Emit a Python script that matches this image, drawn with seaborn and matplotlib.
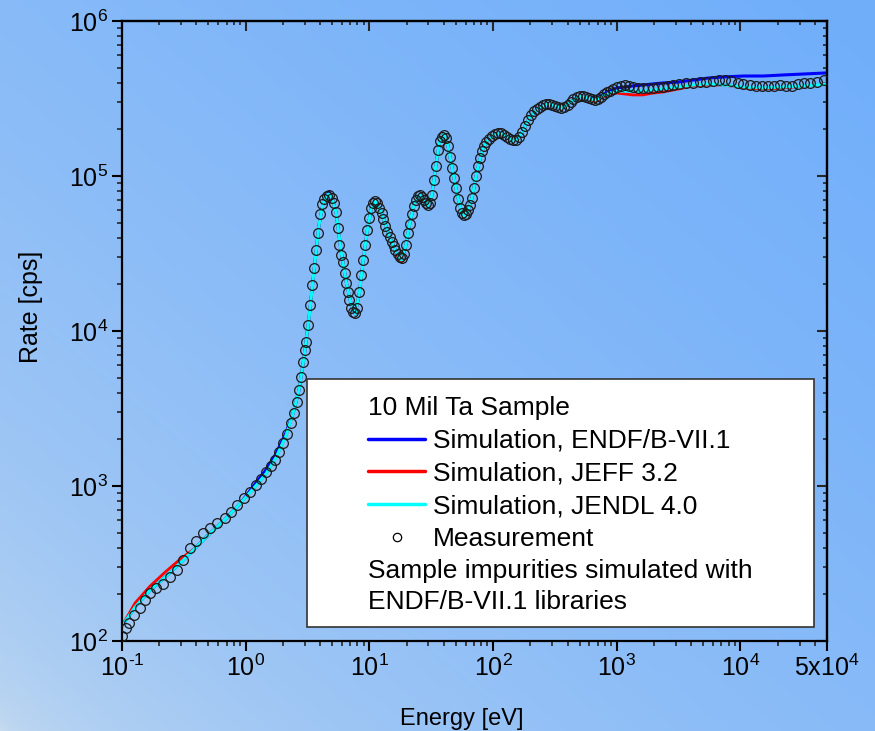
import numpy as np
import matplotlib
matplotlib.use("Agg")
import matplotlib.pyplot as plt
from matplotlib.ticker import FixedLocator, LogLocator, NullFormatter
from matplotlib.lines import Line2D
from matplotlib.patches import Rectangle
import seaborn as sns

sns.set_style("ticks")
plt.rcParams["font.family"] = ["Liberation Sans", "DejaVu Sans"]
plt.rcParams["mathtext.fontset"] = "custom"
plt.rcParams["mathtext.rm"] = "Liberation Sans"
plt.rcParams["mathtext.it"] = "Liberation Sans:italic"
plt.rcParams["text.color"] = "black"
plt.rcParams["axes.labelcolor"] = "black"

# ----------------------------------------------------------------
# Data (log10 values)
# ----------------------------------------------------------------
meas_log_e = [
    -1.000, -0.967, -0.943, -0.902, -0.854, -0.813, -0.772, -0.724, -0.667, -0.610,
    -0.553, -0.504, -0.447, -0.398, -0.341, -0.285, -0.228, -0.171, -0.122, -0.073,
    -0.016, 0.033, 0.081, 0.122, 0.163, 0.203, 0.236, 0.268, 0.301, 0.333,
    0.366, 0.390, 0.415, 0.431, 0.447, 0.463, 0.480, 0.488, 0.504, 0.520,
    0.537, 0.553, 0.569, 0.585, 0.602, 0.618, 0.634, 0.659, 0.675, 0.699,
    0.715, 0.732, 0.748, 0.756, 0.772, 0.789, 0.805, 0.813, 0.829, 0.837,
    0.854, 0.870, 0.886, 0.902, 0.919, 0.935, 0.951, 0.967, 0.984, 1.000,
    1.016, 1.033, 1.049, 1.065, 1.081, 1.098, 1.114, 1.130, 1.146, 1.163,
    1.179, 1.195, 1.211, 1.228, 1.244, 1.260, 1.276, 1.293, 1.309, 1.325,
    1.341, 1.358, 1.374, 1.390, 1.407, 1.423, 1.439, 1.455, 1.472, 1.488,
    1.504, 1.520, 1.537, 1.553, 1.569, 1.585, 1.602, 1.618, 1.634, 1.650,
    1.667, 1.683, 1.699, 1.715, 1.732, 1.748, 1.764, 1.780, 1.797, 1.813,
    1.829, 1.846, 1.862, 1.878, 1.894, 1.911, 1.927, 1.943, 1.967, 1.992,
    2.016, 2.041, 2.065, 2.089, 2.114, 2.138, 2.163, 2.187, 2.211, 2.236,
    2.260, 2.285, 2.309, 2.333, 2.358, 2.382, 2.407, 2.431, 2.455, 2.480,
    2.504, 2.528, 2.553, 2.577, 2.602, 2.626, 2.650, 2.675, 2.699, 2.724,
    2.748, 2.772, 2.797, 2.821, 2.846, 2.870, 2.894, 2.919, 2.943, 2.967,
    3.000, 3.033, 3.065, 3.098, 3.130, 3.171, 3.211, 3.252, 3.293, 3.333,
    3.374, 3.415, 3.455, 3.504, 3.561, 3.618, 3.675, 3.724, 3.780, 3.829,
    3.878, 3.927, 3.976, 4.024, 4.073, 4.122, 4.171, 4.220, 4.268, 4.317,
    4.366, 4.415, 4.463, 4.512, 4.561, 4.618, 4.675,
]
meas_log_rate = [
    2.032, 2.084, 2.116, 2.168, 2.213, 2.265, 2.310, 2.342, 2.368, 2.413,
    2.458, 2.523, 2.600, 2.645, 2.697, 2.729, 2.761, 2.794, 2.832, 2.877,
    2.923, 2.961, 3.006, 3.045, 3.090, 3.129, 3.168, 3.219, 3.277, 3.335,
    3.406, 3.471, 3.542, 3.619, 3.703, 3.800, 3.877, 3.929, 4.039, 4.168,
    4.297, 4.406, 4.523, 4.632, 4.755, 4.819, 4.852, 4.871, 4.877, 4.858,
    4.826, 4.768, 4.665, 4.555, 4.490, 4.445, 4.374, 4.310, 4.252, 4.200,
    4.148, 4.123, 4.116, 4.148, 4.252, 4.361, 4.458, 4.555, 4.652, 4.729,
    4.794, 4.826, 4.839, 4.826, 4.794, 4.761, 4.723, 4.677, 4.639, 4.606,
    4.574, 4.548, 4.523, 4.497, 4.477, 4.471, 4.497, 4.555, 4.632, 4.690,
    4.755, 4.806, 4.845, 4.871, 4.877, 4.865, 4.845, 4.826, 4.813, 4.826,
    4.877, 4.974, 5.065, 5.168, 5.226, 5.252, 5.265, 5.245, 5.194, 5.123,
    5.052, 4.987, 4.923, 4.852, 4.794, 4.761, 4.748, 4.755, 4.781, 4.813,
    4.858, 4.923, 5.000, 5.065, 5.116, 5.161, 5.194, 5.219, 5.239, 5.258,
    5.271, 5.277, 5.277, 5.265, 5.252, 5.239, 5.232, 5.232, 5.252, 5.284,
    5.323, 5.361, 5.394, 5.419, 5.432, 5.445, 5.458, 5.465, 5.465, 5.458,
    5.452, 5.445, 5.439, 5.445, 5.458, 5.477, 5.497, 5.510, 5.516, 5.516,
    5.510, 5.503, 5.497, 5.490, 5.497, 5.510, 5.529, 5.542, 5.548, 5.561,
    5.574, 5.581, 5.587, 5.581, 5.574, 5.568, 5.568, 5.568, 5.568, 5.574,
    5.574, 5.581, 5.587, 5.594, 5.600, 5.600, 5.606, 5.606, 5.613, 5.619,
    5.619, 5.613, 5.600, 5.594, 5.587, 5.581, 5.581, 5.581, 5.581, 5.587,
    5.581, 5.581, 5.594, 5.600, 5.600, 5.606, 5.619,
]

sim_log_e = [
    -1.000, -0.894, -0.772, -0.650, -0.528, -0.407, -0.285, -0.163, -0.041, 0.081,
    0.163, 0.244, 0.325, 0.382, 0.431, 0.472, 0.512, 0.553, 0.593, 0.626,
    0.659, 0.675, 0.699, 0.732, 0.772, 0.813, 0.854, 0.886, 0.919, 0.951,
    0.984, 1.016, 1.049, 1.098, 1.146, 1.195, 1.244, 1.260, 1.293, 1.325,
    1.358, 1.390, 1.407, 1.439, 1.472, 1.504, 1.537, 1.569, 1.602, 1.634,
    1.667, 1.707, 1.748, 1.764, 1.797, 1.829, 1.870, 1.911, 1.951, 2.008,
    2.065, 2.114, 2.163, 2.195, 2.236, 2.293, 2.358, 2.439, 2.504, 2.561,
    2.626, 2.699, 2.764, 2.829, 2.886, 2.943, 3.000, 3.065, 3.130, 3.211,
    3.293, 3.374, 3.496, 3.618, 3.740, 3.862, 4.024, 4.187, 4.350, 4.512,
    4.699,
]
endf_log_rate = [
    2.097, 2.219, 2.329, 2.413, 2.503, 2.600, 2.697, 2.787, 2.890, 3.019,
    3.103, 3.206, 3.342, 3.465, 3.619, 3.832, 4.084, 4.394, 4.684, 4.826,
    4.877, 4.897, 4.858, 4.761, 4.510, 4.316, 4.168, 4.110, 4.245, 4.458,
    4.652, 4.794, 4.839, 4.768, 4.645, 4.548, 4.471, 4.458, 4.548, 4.690,
    4.806, 4.871, 4.877, 4.845, 4.806, 4.871, 5.065, 5.226, 5.271, 5.200,
    5.058, 4.890, 4.761, 4.742, 4.774, 4.858, 5.032, 5.161, 5.226, 5.265,
    5.277, 5.252, 5.226, 5.232, 5.284, 5.374, 5.432, 5.465, 5.452, 5.439,
    5.477, 5.516, 5.503, 5.497, 5.523, 5.548, 5.568, 5.574, 5.581, 5.587,
    5.594, 5.600, 5.606, 5.619, 5.632, 5.639, 5.645, 5.645, 5.652, 5.658,
    5.665,
]
jeff_log_rate = [
    2.097, 2.245, 2.355, 2.445, 2.529, 2.600, 2.697, 2.787, 2.890, 3.000,
    3.077, 3.181, 3.323, 3.465, 3.619, 3.832, 4.084, 4.394, 4.684, 4.826,
    4.877, 4.884, 4.858, 4.761, 4.510, 4.316, 4.168, 4.110, 4.245, 4.458,
    4.652, 4.794, 4.839, 4.768, 4.645, 4.548, 4.452, 4.445, 4.548, 4.690,
    4.806, 4.871, 4.877, 4.845, 4.806, 4.871, 5.065, 5.226, 5.271, 5.200,
    5.058, 4.890, 4.761, 4.742, 4.774, 4.858, 5.032, 5.161, 5.226, 5.265,
    5.277, 5.252, 5.226, 5.232, 5.284, 5.374, 5.432, 5.465, 5.452, 5.439,
    5.477, 5.516, 5.503, 5.477, 5.510, 5.529, 5.535, 5.529, 5.523, 5.523,
    5.535, 5.542, 5.561, 5.581, 5.587, 5.587, 5.568, 5.561, 5.568, 5.581,
    5.594,
]
jendl_log_rate = [
    2.097, 2.219, 2.329, 2.413, 2.503, 2.600, 2.697, 2.787, 2.890, 3.000,
    3.077, 3.181, 3.323, 3.465, 3.619, 3.832, 4.084, 4.394, 4.684, 4.826,
    4.877, 4.884, 4.858, 4.761, 4.510, 4.316, 4.168, 4.110, 4.245, 4.458,
    4.652, 4.794, 4.839, 4.768, 4.645, 4.548, 4.471, 4.458, 4.548, 4.690,
    4.806, 4.871, 4.877, 4.845, 4.806, 4.871, 5.065, 5.226, 5.271, 5.200,
    5.058, 4.890, 4.761, 4.742, 4.774, 4.858, 5.032, 5.161, 5.226, 5.265,
    5.277, 5.252, 5.226, 5.232, 5.284, 5.374, 5.432, 5.465, 5.452, 5.439,
    5.477, 5.516, 5.503, 5.490, 5.516, 5.535, 5.548, 5.548, 5.548, 5.548,
    5.555, 5.561, 5.574, 5.587, 5.594, 5.587, 5.574, 5.568, 5.574, 5.581,
    5.594,
]

x_ticks = [0.1, 1, 10, 100, 1e3, 1e4, 5e4]
x_tick_labels = [r"$10^{\text{-}1}$", r"$10^{0}$", r"$10^{1}$", r"$10^{2}$",
                 r"$10^{3}$", r"$10^{4}$", r"$5\mathrm{x}10^{4}$"]
y_ticks = [1e2, 1e3, 1e4, 1e5, 1e6]
y_tick_labels = [r"$10^{2}$", r"$10^{3}$", r"$10^{4}$", r"$10^{5}$", r"$10^{6}$"]

legend_title = "10 Mil Ta Sample"
series_labels = ["Simulation, ENDF/B-VII.1", "Simulation, JEFF 3.2",
                 "Simulation, JENDL 4.0", "Measurement"]
footer_lines = ["Sample impurities simulated with", "ENDF/B-VII.1 libraries"]

energy_meas = 10 ** np.array(meas_log_e)
rate_meas = 10 ** np.array(meas_log_rate)
energy_sim = 10 ** np.array(sim_log_e)
rate_endf = 10 ** np.array(endf_log_rate)
rate_jeff = 10 ** np.array(jeff_log_rate)
rate_jendl = 10 ** np.array(jendl_log_rate)

# ----------------------------------------------------------------
# Figure with gradient background
# ----------------------------------------------------------------
fig = plt.figure(figsize=(8.75, 7.31), dpi=100)

bg = fig.add_axes([0, 0, 1, 1], zorder=0)
gx, gy = np.meshgrid(np.linspace(0, 1, 300), np.linspace(0, 1, 300))
t = ((gx + gy) / 2) ** 0.45
c0 = np.array([0xC8, 0xDC, 0xEF]) / 255
c1 = np.array([0x70, 0xAE, 0xFB]) / 255
grad = c0[None, None, :] * (1 - t[..., None]) + c1[None, None, :] * t[..., None]
bg.imshow(grad, extent=[0, 1, 0, 1], origin="lower", aspect="auto")
bg.axis("off")

ax = fig.add_axes([0.1394, 0.1231, 0.8057, 0.8482], zorder=1)
ax.set_facecolor("none")

sns.lineplot(x=energy_sim, y=rate_endf, color="#0000FF", lw=2.2, ax=ax,
             estimator=None, sort=False, legend=False)
sns.lineplot(x=energy_sim, y=rate_jeff, color="#FF0000", lw=2.0, ax=ax,
             estimator=None, sort=False, legend=False)
sns.lineplot(x=energy_sim, y=rate_jendl, color="#00FFFF", lw=2.2, ax=ax,
             estimator=None, sort=False, legend=False)
sns.lineplot(x=energy_meas, y=rate_meas, marker="o", linestyle="", ax=ax,
             color="#1a1a1a", markeredgecolor="#1a1a1a",
             markersize=7, markeredgewidth=0.9, estimator=None, sort=False,
             legend=False, zorder=3)
meas_line = ax.lines[-1]
meas_line.set_markerfacecolor("none")

ax.set_xscale("log")
ax.set_yscale("log")
ax.set_xlim(0.1, 5e4)
ax.set_ylim(1e2, 1e6)

ax.xaxis.set_major_locator(FixedLocator(x_ticks))
ax.set_xticklabels(x_tick_labels)
ax.xaxis.set_minor_locator(LogLocator(base=10, subs=np.arange(2, 10)))
ax.xaxis.set_minor_formatter(NullFormatter())
ax.yaxis.set_major_locator(FixedLocator(y_ticks))
ax.set_yticklabels(y_tick_labels)
ax.yaxis.set_minor_locator(LogLocator(base=10, subs=np.arange(2, 10)))
ax.yaxis.set_minor_formatter(NullFormatter())

ax.tick_params(which="major", direction="out", length=7, width=1.5,
               labelsize=18, colors="black", pad=3)
ax.tick_params(which="minor", direction="out", length=3.5, width=1.2)
for sp in ax.spines.values():
    sp.set_linewidth(1.6)
    sp.set_color("black")

# mirrored inward ticks on top and right
secx = ax.secondary_xaxis("top")
secx.xaxis.set_major_locator(FixedLocator(x_ticks))
secx.xaxis.set_minor_locator(LogLocator(base=10, subs=np.arange(2, 10)))
secx.xaxis.set_major_formatter(NullFormatter())
secx.xaxis.set_minor_formatter(NullFormatter())
secx.tick_params(which="major", direction="in", length=7, width=1.5)
secx.tick_params(which="minor", direction="in", length=3, width=1.2)
secx.spines["top"].set_linewidth(1.6)

secy = ax.secondary_yaxis("right")
secy.yaxis.set_major_locator(FixedLocator(y_ticks))
secy.yaxis.set_minor_locator(LogLocator(base=10, subs=np.arange(2, 10)))
secy.yaxis.set_major_formatter(NullFormatter())
secy.yaxis.set_minor_formatter(NullFormatter())
secy.tick_params(which="major", direction="in", length=7, width=1.5)
secy.tick_params(which="minor", direction="in", length=3, width=1.2)
secy.spines["right"].set_linewidth(1.6)

ax.set_xlabel("Energy [eV]", fontsize=17)
ax.set_ylabel("Rate [cps]", fontsize=18)
ax.xaxis.set_label_coords(0.482, -0.108)
ax.yaxis.set_label_coords(-0.112, 0.539)

# ----------------------------------------------------------------
# Legend box
# ----------------------------------------------------------------
ax.add_patch(Rectangle((0.262, 0.0226), 0.72, 0.40, transform=ax.transAxes,
                       facecolor="white", edgecolor="#333333", lw=1.2, zorder=4))
handles = [
    Line2D([], [], color="#0000FF", lw=2.5),
    Line2D([], [], color="#FF0000", lw=2.5),
    Line2D([], [], color="#00FFFF", lw=2.5),
    Line2D([], [], marker="o", ls="", mfc="none", mec="black", ms=6, mew=0.9),
]
leg = ax.legend(handles, series_labels, title=legend_title, alignment="left",
                loc="upper left", bbox_to_anchor=(0.349, 0.395), frameon=False,
                fontsize=19, title_fontsize=19, handlelength=2.16,
                handletextpad=0.3, labelspacing=0.33, borderpad=0,
                borderaxespad=0)
leg.set_zorder(5)
ax.text(0.349, 0.113, footer_lines[0], transform=ax.transAxes, fontsize=19,
        va="center", ha="left", zorder=6)
ax.text(0.349, 0.063, footer_lines[1], transform=ax.transAxes, fontsize=19,
        va="center", ha="left", zorder=6)

fig.savefig("out.png", dpi=100)
